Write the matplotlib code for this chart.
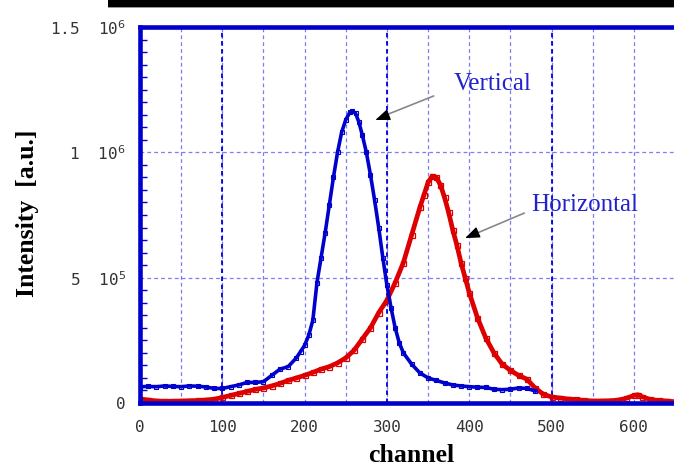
import matplotlib
matplotlib.use("Agg")
import matplotlib.pyplot as plt
from matplotlib.patches import Rectangle
from matplotlib.ticker import MultipleLocator

# profile of the beam along the two axes (channel, counts)
vert_channel = [0, 10, 20, 30, 40, 50, 60, 70, 80, 90, 100, 110, 120, 130, 140,
                150, 160, 170, 180, 190, 195, 200, 205, 210, 215, 220, 225, 230,
                235, 240, 245, 250, 255, 258, 262, 266, 270, 275, 280, 285, 290,
                295, 300, 305, 310, 315, 320, 330, 340, 350, 360, 370, 380, 390,
                400, 410, 420, 430, 440, 450, 460, 470, 480]
vert_counts = [6.5e4, 6.6e4, 6.5e4, 6.8e4, 6.6e4, 6.5e4, 6.8e4, 6.7e4, 6.4e4,
               5.8e4, 5.8e4, 6.5e4, 7.2e4, 8.2e4, 8.2e4, 8.5e4, 1.1e5, 1.35e5,
               1.45e5, 1.8e5, 2.05e5, 2.3e5, 2.7e5, 3.3e5, 4.8e5, 5.8e5, 6.8e5,
               7.9e5, 9.0e5, 1.0e6, 1.08e6, 1.13e6, 1.16e6, 1.165e6, 1.155e6,
               1.12e6, 1.07e6, 1.0e6, 9.1e5, 8.1e5, 7.0e5, 5.8e5, 4.7e5, 3.8e5,
               3.0e5, 2.4e5, 2.0e5, 1.55e5, 1.2e5, 1.0e5, 9.0e4, 8.0e4, 7.2e4,
               6.8e4, 6.5e4, 6.3e4, 6.2e4, 5.5e4, 5.3e4, 5.5e4, 6.0e4, 5.8e4, 4.8e4]

horiz_channel = [0, 10, 20, 30, 40, 50, 60, 70, 80, 90, 100, 110, 120, 130, 140,
                 150, 160, 170, 180, 190, 200, 210, 220, 230, 240, 250, 260, 270,
                 280, 290, 300, 310, 320, 330, 340, 345, 350, 355, 360, 365, 370,
                 375, 380, 385, 390, 395, 400, 410, 420, 430, 440, 450, 460, 470,
                 480, 490, 500, 510, 520, 530, 540, 550, 560, 570, 580, 590, 600,
                 605, 610, 620, 630, 640, 650]
horiz_counts = [1.6e4, 1.2e4, 8e3, 7e3, 7e3, 8e3, 9e3, 1.0e4, 1.2e4, 1.5e4, 2.2e4,
                3.0e4, 3.8e4, 4.6e4, 5.4e4, 6.0e4, 6.8e4, 7.8e4, 9.0e4, 1.0e5,
                1.1e5, 1.22e5, 1.35e5, 1.45e5, 1.6e5, 1.8e5, 2.1e5, 2.55e5, 3.0e5,
                3.6e5, 4.1e5, 4.8e5, 5.6e5, 6.7e5, 7.8e5, 8.3e5, 8.8e5, 9.05e5,
                9.0e5, 8.7e5, 8.2e5, 7.6e5, 6.9e5, 6.3e5, 5.6e5, 5.0e5, 4.4e5,
                3.4e5, 2.6e5, 2.0e5, 1.55e5, 1.3e5, 1.1e5, 9.5e4, 6.0e4, 3.5e4,
                2.4e4, 2.0e4, 1.6e4, 1.4e4, 1.0e4, 8e3, 8e3, 9e3, 1.1e4, 1.8e4,
                3.0e4, 3.3e4, 2.5e4, 1.4e4, 1.0e4, 8e3, 5e3]

x_ticks = [0, 100, 200, 300, 400, 500, 600]
y_ticks = [0, 5e5, 1e6, 1.5e6]
y_ticklabels = ['0', r'5  10$^{5}$', r'1  10$^{6}$', r'1.5  10$^{6}$']

BLUE = '#0000cc'
RED = '#dd0000'
GRID = '#4444ee'
W, H = 674, 467

fig = plt.figure(figsize=(W / 100, H / 100), dpi=100)
ax = fig.add_axes([140 / W, (H - 403) / H, 535 / W, 376 / H])

ax.set_xlim(0, 650)
ax.set_ylim(0, 1.5e6)

# dashed grid every 50 channels, and at the two inner intensity ticks
ax.xaxis.set_major_locator(MultipleLocator(100))
ax.xaxis.set_minor_locator(MultipleLocator(50))
ax.yaxis.set_minor_locator(MultipleLocator(5e4))
ax.grid(axis='x', which='both', color=GRID, alpha=0.7, lw=0.9,
        linestyle=(0, (3, 2.5)))
for yv in y_ticks[1:3]:
    ax.axhline(yv, color=GRID, alpha=0.7, lw=0.9, linestyle=(0, (3, 2.5)), zorder=0.5)
for xv in (100, 300, 500):
    ax.axvline(xv, color='#0000dd', lw=1.3, linestyle=(0, (2.5, 2)), zorder=0.6)
ax.set_axisbelow(True)

# curves: a thick trace with open squares on the sampled channels
ax.plot(vert_channel, vert_counts, '-', color=BLUE, lw=2.6, zorder=3)
ax.plot(vert_channel, vert_counts, 's', color=BLUE, mfc='none', ms=3.2,
        mew=0.8, zorder=3.5)
ax.plot(horiz_channel, horiz_counts, '-', color=RED, lw=3.4, zorder=2)
ax.plot(horiz_channel, horiz_counts, 's', color=RED, mfc='none', ms=3.6,
        mew=0.9, zorder=2.5)

ax.set_xticks(x_ticks)
ax.set_yticks(y_ticks)
ax.set_yticklabels(y_ticklabels)
ax.tick_params(axis='both', which='both', direction='in', colors=BLUE,
               labelcolor='#333333', labelsize=11.5)
ax.tick_params(axis='y', which='major', length=0, pad=10)
ax.tick_params(axis='y', which='minor', length=5, width=1)
ax.tick_params(axis='x', which='both', length=0, pad=12)
for lab in ax.get_xticklabels() + ax.get_yticklabels():
    lab.set_fontfamily('DejaVu Sans Mono')

for side in ('left', 'top', 'bottom'):
    ax.spines[side].set_color(BLUE)
    ax.spines[side].set_linewidth(3.3)
    ax.spines[side].set_zorder(5)
ax.spines['right'].set_visible(False)

label_font = dict(family='Liberation Serif', weight='bold', size=18.5, color='black')
fig.text(411 / W, 1 - 455 / H, 'channel', ha='center', va='center', **label_font)
fig.text(28 / W, 1 - 213 / H, 'Intensity  [a.u.]', rotation=90,
         ha='center', va='center', **label_font)

# labels with pointers
note_font = dict(family='Liberation Serif', size=18, color='#2222cc')
ax.text(428, 1.272e6, 'Vertical', ha='center', va='center', **note_font)
ax.annotate('', xy=(292, 1.14e6), xytext=(360, 1.229e6),
            arrowprops=dict(arrowstyle='-', color='#888888', lw=1.2))
ax.annotate('', xy=(286, 1.129e6), xytext=(300, 1.147e6),
            arrowprops=dict(arrowstyle='-|>,head_length=0.9,head_width=0.35',
                            color='black', lw=0.8, shrinkA=0, shrinkB=0))
ax.text(540, 7.9e5, 'Horizontal', ha='center', va='center', **note_font)
ax.annotate('', xy=(401, 6.66e5), xytext=(470, 7.62e5),
            arrowprops=dict(arrowstyle='-', color='#888888', lw=1.2))
ax.annotate('', xy=(395, 6.58e5), xytext=(409, 6.78e5),
            arrowprops=dict(arrowstyle='-|>,head_length=0.9,head_width=0.35',
                            color='black', lw=0.8, shrinkA=0, shrinkB=0))

# dark strip along the top edge
fig.patches.append(Rectangle((108 / W, 1 - 7 / H), 1, 7 / H, transform=fig.transFigure,
                             facecolor='black', edgecolor='none'))
fig.patches.append(Rectangle((108 / W, 1 - 8 / H), 1, 1 / H, transform=fig.transFigure,
                             facecolor='#999999', edgecolor='none'))

fig.savefig('out.png', dpi=100)
